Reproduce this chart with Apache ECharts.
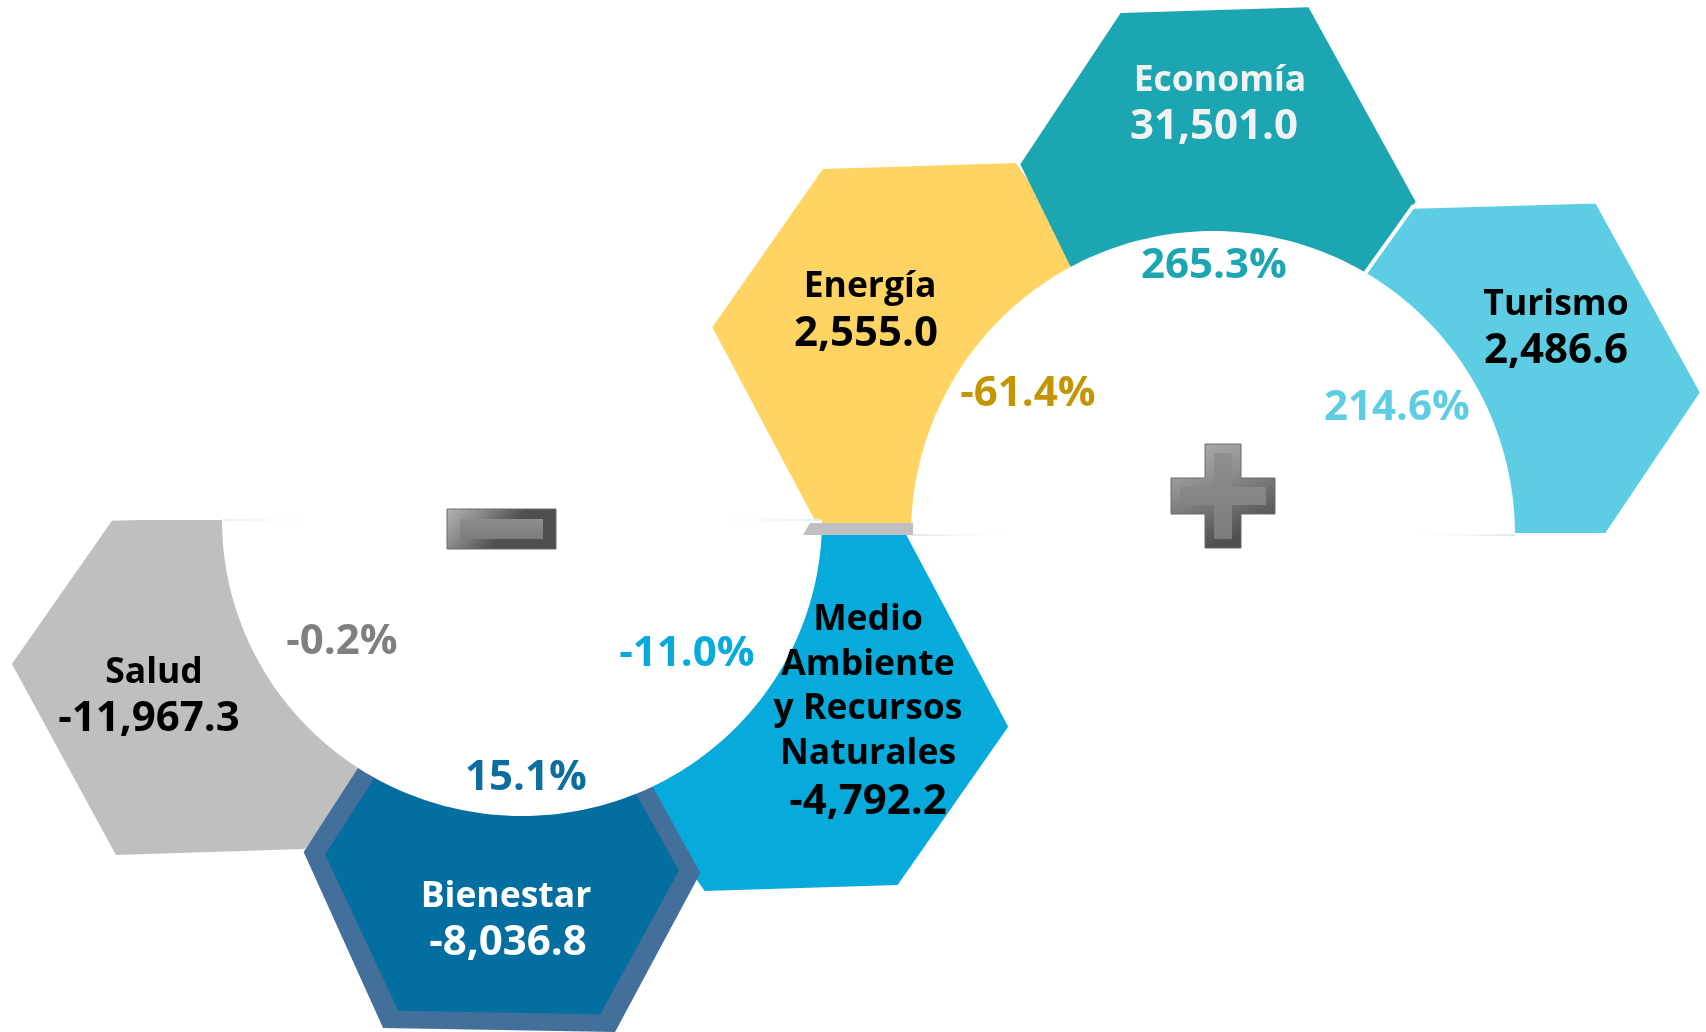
<!DOCTYPE html>
<html>
<head>
<meta charset="utf-8">
<script src="https://cdn.jsdelivr.net/npm/echarts@6/dist/echarts.min.js"></script>
<style>
  html, body { margin: 0; padding: 0; background: #ffffff; }
  #chart { width: 1706px; height: 1032px; }
</style>
</head>
<body>
<div id="chart"></div>
<script>
// ---------------- data ----------------
const sectors = ['Economía', 'Turismo', 'Energía', 'Salud', 'Medio\nAmbiente\ny Recursos\nNaturales', 'Bienestar'];
const amounts = [31501.0, 2486.6, 2555.0, -11967.3, -4792.2, -8036.8];
const pctChanges = [265.3, 214.6, -61.4, -0.2, -11.0, 15.1];

// ---------------- layout (positions, sizes, styles) ----------------
const hexLayout = [
  { cx: 1220, cy: 183, g: { Rl: 199, Rr: 195, atl: 94, atr: 94, abl: 113, abr: 85, ht: 173, hb: 165, lean: 25, rot: -1.8 },
    clipMax: 535, fill: '#1BA6B2', txt: '#F2F2F2', pc: '#1BA6B2', lab: [1220, 80.5], val: [1214, 127], pct: [1214, 266] },
  { cx: 1510, cy: 392, g: { Rl: 230, Rr: 192, atl: 92, atr: 92, abl: 92, abr: 92, ht: 188, hb: 146, lean: 6, rot: -1.6 },
    clipMax: 535, fill: '#5DCDE3', stroke: '#FFFFFF', strokeW: 4, txt: '#000000', pc: '#5DCDE3', lab: [1556, 305], val: [1556, 351], pct: [1397, 408] },
  { cx: 924.5, cy: 330, g: { Rl: 212, Rr: 212, atl: 96.5, atr: 96.5, abl: 112.5, abr: 96.5, ht: 164, hb: 193, lean: 9.5, rot: -1.8 },
    clipMax: 535, fill: '#FFD463', txt: '#000000', pc: '#C49500', lab: [870, 287], val: [866, 334], pct: [1028, 394] },
  { cx: 204.5, cy: 664, g: { Rl: 192.5, Rr: 235, atl: 88, atr: 88, abl: 94.5, abr: 94.5, ht: 146, hb: 188, lean: 6, rot: -1.8 },
    clipMin: 520, fill: '#BFBFBF', txt: '#000000', pc: '#7F7F7F', lab: [154, 673], val: [149, 719], pct: [342, 642] },
  { cx: 796, cy: 724, g: { Rl: 212, Rr: 212, atl: 96.5, atr: 112.5, abl: 96.5, abr: 96.5, ht: 193, hb: 164, lean: 9.5, rot: -1.8 },
    clipMin: 520, fill: '#06ABDB', txt: '#000000', pc: '#06ABDB', lab: [868, 687], val: [868, 802], pct: [687, 654], lineH: 44.7 },
  { cx: 502, cy: 862.5, g: { Rl: 198.5, Rr: 198.5, atl: 95, atr: 95, abl: 116, abr: 116, ht: 173, hb: 167.5, lean: 7, rot: 1 },
    inner: { Rl: 177, Rr: 177, atl: 84, atr: 84, abl: 101, abr: 101, ht: 155, hb: 150, lean: 5, rot: 1 }, innerFill: '#036EA0',
    clipMin: 520, fill: '#436F9B', txt: '#FFFFFF', pc: '#0B6E9F', lab: [506, 897], val: [508, 943], pct: [526, 778] }
];
const drawOrder = [2, 0, 1, 3, 4, 5];

const decor = {
  upperArc: { cx: 1213, cy: 535, rx: 302, ry: 304 },
  lowerArc: { cx: 522, cy: 520, rx: 300, ry: 296 },
  plus: { cx: 1223, cy: 496, w: 104, t: 36, b: 9 },
  minus: { cx: 501.5, cy: 529, w: 109, h: 40, bx: 13, by: 10 },
  sliver: [[810, 523], [913, 523], [913, 535], [803, 535]]
};

const FONT = "'Open Sans', 'Noto Sans', sans-serif";
const LABEL_SIZE = 35.5, VALUE_SIZE = 42, PCT_SIZE = 42;

// ---------------- helpers ----------------
function rotPt(p, deg) {
  const t = deg * Math.PI / 180, c = Math.cos(t), s = Math.sin(t);
  return [p[0] * c - p[1] * s, p[0] * s + p[1] * c];
}
function hexPoints(cx, cy, g) {
  const rel = [[-g.Rl, -g.lean], [-g.atl, -g.ht], [g.atr, -g.ht], [g.Rr, g.lean], [g.abr, g.hb], [-g.abl, g.hb]];
  return rel.map(p => { const r = rotPt(p, g.rot); return [cx + r[0], cy + r[1]]; });
}
function cross(a, b, lim) { const t = (lim - a[1]) / (b[1] - a[1]); return [a[0] + t * (b[0] - a[0]), lim]; }
function clipHalf(pts, lim, keepBelow) {
  const inside = p => keepBelow ? p[1] >= lim : p[1] <= lim;
  const out = [];
  for (let i = 0; i < pts.length; i++) {
    const cur = pts[i], prev = pts[(i + pts.length - 1) % pts.length];
    const ci = inside(cur), pi = inside(prev);
    if (ci) { if (!pi) out.push(cross(prev, cur, lim)); out.push(cur); }
    else if (pi) out.push(cross(prev, cur, lim));
  }
  return out;
}
function clipFor(L, pts) {
  if (L.clipMax != null) return clipHalf(pts, L.clipMax, false);
  if (L.clipMin != null) return clipHalf(pts, L.clipMin, true);
  return pts;
}
function fmtAmount(v) { return v.toLocaleString('en-US', { minimumFractionDigits: 1, maximumFractionDigits: 1 }); }
function fmtPct(v) { return v.toFixed(1) + '%'; }
function halfEllipse(a, upper, api) {
  const pts = [];
  const n = 120;
  for (let k = 0; k <= n; k++) {
    const t = Math.PI * k / n;
    const y = upper ? a.cy - a.ry * Math.sin(t) : a.cy + a.ry * Math.sin(t);
    pts.push(api.coord([a.cx + a.rx * Math.cos(t), y]));
  }
  return pts;
}
function plusPoints(p, w, t) {
  const h = w / 2, q = t / 2;
  return [[-q, -h], [q, -h], [q, -q], [h, -q], [h, q], [q, q], [q, h], [-q, h], [-q, q], [-h, q], [-h, -q], [-q, -q]]
    .map(v => [p.cx + v[0], p.cy + v[1]]);
}

const hexData = drawOrder.map(i => ({ name: sectors[i], value: [hexLayout[i].cx, hexLayout[i].cy, amounts[i], pctChanges[i]] }));

const chart = echarts.init(document.getElementById('chart'), null, { renderer: 'canvas', width: 1706, height: 1032 });

const bevelOuter = { type: 'linear', x: 0, y: 0, x2: 0.4, y2: 1, colorStops: [
  { offset: 0, color: '#B4B4B4' }, { offset: 0.45, color: '#8C8C8C' }, { offset: 1, color: '#4E4E4E' }] };
const bevelInner = { type: 'linear', x: 0, y: 0, x2: 0, y2: 1, colorStops: [
  { offset: 0, color: '#8E8E8E' }, { offset: 1, color: '#7C7C7C' }] };

chart.setOption({
  animation: false,
  backgroundColor: '#ffffff',
  grid: { left: 0, right: 0, top: 0, bottom: 0, containLabel: false },
  xAxis: { type: 'value', min: 0, max: 1706, show: false },
  yAxis: { type: 'value', min: 0, max: 1032, inverse: true, show: false },
  series: [
    {
      name: 'hexagons', type: 'custom', clip: false, z: 2, data: hexData,
      renderItem: function (params, api) {
        const i = drawOrder[params.dataIndex];
        const L = hexLayout[i];
        const cx = api.value(0), cy = api.value(1);
        const outer = clipFor(L, hexPoints(cx, cy, L.g)).map(p => api.coord(p));
        const children = [{
          type: 'polygon', shape: { points: outer },
          style: { fill: L.fill, stroke: L.stroke || null, lineWidth: L.strokeW || 0 }
        }];
        if (L.inner) {
          const inner = clipFor(L, hexPoints(cx, cy, L.inner)).map(p => api.coord(p));
          children.push({ type: 'polygon', shape: { points: inner }, style: { fill: L.innerFill } });
        }
        return { type: 'group', children: children };
      }
    },
    {
      name: 'decor', type: 'custom', clip: false, z: 3, data: [[decor.upperArc.cx, decor.upperArc.cy]],
      renderItem: function (params, api) {
        const up = decor.upperArc, lo = decor.lowerArc;
        const children = [];
        children.push({ type: 'polygon', shape: { points: halfEllipse(lo, false, api) }, style: { fill: '#FFFFFF' } });
        children.push({ type: 'polygon', shape: { points: halfEllipse(up, true, api) }, style: { fill: '#FFFFFF' } });
        const fadeUp = { type: 'linear', x: 0, y: 0, x2: 1, y2: 0, colorStops: [
          { offset: 0, color: '#E3E7E9' }, { offset: 0.18, color: 'rgba(255,255,255,0)' },
          { offset: 0.8, color: 'rgba(255,255,255,0)' }, { offset: 1, color: '#E3E7E9' }] };
        const fadeLo = { type: 'linear', x: 0, y: 0, x2: 1, y2: 0, colorStops: [
          { offset: 0, color: '#E2F1F6' }, { offset: 0.18, color: 'rgba(255,255,255,0)' },
          { offset: 0.8, color: 'rgba(255,255,255,0)' }, { offset: 1, color: '#D8EEF6' }] };
        const u1 = api.coord([up.cx - up.rx, up.cy]), u2 = api.coord([up.cx + up.rx, up.cy]);
        const l1 = api.coord([lo.cx - lo.rx, lo.cy]), l2 = api.coord([lo.cx + lo.rx, lo.cy]);
        children.push({ type: 'rect', shape: { x: u1[0], y: u1[1] - 1, width: u2[0] - u1[0], height: 2 }, style: { fill: fadeUp } });
        children.push({ type: 'rect', shape: { x: l1[0], y: l1[1] - 1, width: l2[0] - l1[0], height: 2 }, style: { fill: fadeLo } });
        children.push({ type: 'polygon', shape: { points: decor.sliver.map(p => api.coord(p)) }, style: { fill: '#C0C0C0' } });
        const P = decor.plus;
        children.push({ type: 'polygon', shape: { points: plusPoints(P, P.w, P.t).map(p => api.coord(p)) },
          style: { fill: bevelOuter, stroke: '#6A6A6A', lineWidth: 1 } });
        children.push({ type: 'polygon', shape: { points: plusPoints(P, P.w - 2 * P.b, P.t - 2 * P.b).map(p => api.coord(p)) },
          style: { fill: bevelInner } });
        const M = decor.minus;
        const m1 = api.coord([M.cx - M.w / 2, M.cy - M.h / 2]);
        const m2 = api.coord([M.cx + M.w / 2, M.cy + M.h / 2]);
        children.push({ type: 'rect', shape: { x: m1[0], y: m1[1], width: m2[0] - m1[0], height: m2[1] - m1[1] },
          style: { fill: bevelOuter, stroke: '#6A6A6A', lineWidth: 1 } });
        children.push({ type: 'rect', shape: { x: m1[0] + M.bx, y: m1[1] + M.by, width: m2[0] - m1[0] - 2 * M.bx, height: m2[1] - m1[1] - 2 * M.by },
          style: { fill: bevelInner } });
        return { type: 'group', children: children };
      }
    },
    {
      name: 'labels', type: 'custom', clip: false, z: 4, data: hexData,
      renderItem: function (params, api) {
        const i = drawOrder[params.dataIndex];
        const L = hexLayout[i];
        const lab = api.coord(L.lab), val = api.coord(L.val), pc = api.coord(L.pct);
        const base = { fontFamily: FONT, fontWeight: 'bold', align: 'center', verticalAlign: 'middle' };
        return {
          type: 'group', children: [
            { type: 'text', style: Object.assign({}, base, { text: hexData[params.dataIndex].name, x: lab[0], y: lab[1], fill: L.txt, fontSize: LABEL_SIZE, lineHeight: L.lineH || LABEL_SIZE * 1.2 }) },
            { type: 'text', style: Object.assign({}, base, { text: fmtAmount(api.value(2)), x: val[0], y: val[1], fill: L.txt, fontSize: VALUE_SIZE }) },
            { type: 'text', style: Object.assign({}, base, { text: fmtPct(api.value(3)), x: pc[0], y: pc[1], fill: L.pc, fontSize: PCT_SIZE }) }
          ]
        };
      }
    }
  ]
});
</script>
</body>
</html>
